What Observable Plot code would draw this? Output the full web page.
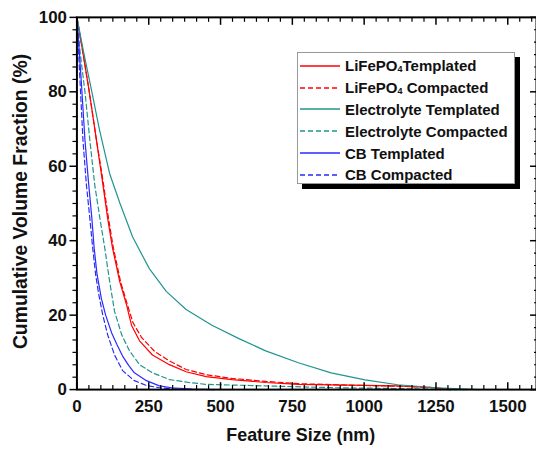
<!DOCTYPE html>
<html>
<head>
<meta charset="utf-8">
<script src="https://cdn.jsdelivr.net/npm/d3@7"></script>
<script src="https://cdn.jsdelivr.net/npm/@observablehq/plot@0.6"></script>
<style>
  html, body { margin: 0; padding: 0; background: white; overflow: hidden; }
  #wrap { position: relative; width: 536px; height: 451px; overflow: hidden; background: white; }
  #legend {
    position: absolute; left: 297px; top: 52px; width: 218px; height: 132px;
    box-sizing: border-box; border: 1px solid #999; background: white;
    box-shadow: 5px 5px 0 #000; padding-top: 2px;
    font-family: "Liberation Sans", Arial, sans-serif; font-weight: bold; font-size: 15px; color: #111;
  }
  .row { display: flex; align-items: center; height: 21.8px; white-space: nowrap; }
  .row svg { margin-left: 2px; margin-right: 5px; flex: none; }
  .sub { font-size: 9px; vertical-align: -1px; }
</style>
</head>
<body>
<div id="wrap">
  <div id="chart"></div>
  <div id="legend"></div>
</div>
<script>
// ---- Data ----
const seriesNames = ["LiFePO4 Templated", "LiFePO4 Compacted", "Electrolyte Templated", "Electrolyte Compacted", "CB Templated", "CB Compacted"];

const sizeLfpT = [0, 22, 43, 68, 85, 107, 124, 149, 173, 190, 218, 263, 322, 380, 450, 540, 657, 771, 944, 1117, 1250, 1300];
const fracLfpT = [100, 90, 80, 67, 58, 46, 38, 29, 22.7, 17.3, 13.1, 9.3, 6.7, 4.8, 3.5, 2.7, 1.9, 1.4, 1.2, 1.0, 0.5, 0];

const sizeLfpC = [0, 22, 43, 68, 87, 110, 127, 152, 175, 195, 225, 270, 322, 380, 450, 540, 657, 771, 944, 1117, 1250, 1300];
const fracLfpC = [100, 90, 80, 67, 58, 46, 38, 29, 23, 18, 14, 10.3, 7.7, 5.4, 4.0, 3.0, 2.2, 1.6, 1.2, 0.9, 0.5, 0];

const sizeElecT = [0, 25, 52, 78, 114, 150, 194, 252, 311, 380, 470, 564, 657, 771, 885, 1003, 1117, 1250, 1400];
const fracElecT = [100, 90, 80, 70, 58, 50, 41, 32.5, 26.4, 21.5, 17.3, 13.7, 10.4, 7.2, 4.5, 2.6, 1.3, 0.5, 0];

const sizeElecC = [0, 12, 28, 45, 62, 80, 97, 114, 131, 156, 183, 218, 263, 322, 391, 450, 600, 750, 900, 1100, 1300];
const fracElecC = [100, 90, 80, 67, 55, 46, 38, 29, 21, 14.7, 10.4, 6.7, 4.5, 2.7, 1.9, 1.4, 1.1, 0.8, 0.5, 0.3, 0];

const sizeCbT = [0, 15, 28, 40, 52, 60, 70, 85, 100, 121, 140, 159, 180, 200, 242, 287, 330, 400, 480];
const fracCbT = [100, 83, 67, 56, 46, 38, 31, 24.5, 20, 15.2, 12, 9, 6.5, 4.5, 2.4, 1, 0.5, 0.15, 0];

const sizeCbC = [0, 10, 21, 33, 45, 55, 65, 75, 90, 107, 131, 159, 200, 242, 287, 350, 420];
const fracCbC = [100, 84, 67, 55, 46, 38, 31, 26, 20, 14.7, 9.3, 5.1, 2.4, 1.1, 0.5, 0.1, 0];

const xTickValues = [0, 250, 500, 750, 1000, 1250, 1500];
const yTickValues = [0, 20, 40, 60, 80, 100];
const xDomain = [0, 1600];
const yDomain = [0, 100];

// ---- Styles ----
const red = "#ff0000", teal = "#1f9490", blue = "#2a2aff";
const dash = "5,3";

const toRows = (xs, ys) => xs.map((x, i) => ({x, y: ys[i]}));
const series = [
  {rows: toRows(sizeLfpT, fracLfpT), color: red, dashed: false},
  {rows: toRows(sizeLfpC, fracLfpC), color: red, dashed: true},
  {rows: toRows(sizeElecT, fracElecT), color: teal, dashed: false},
  {rows: toRows(sizeElecC, fracElecC), color: teal, dashed: true},
  {rows: toRows(sizeCbT, fracCbT), color: blue, dashed: false},
  {rows: toRows(sizeCbC, fracCbC), color: blue, dashed: true}
];

// minor ticks: 5 minor ticks between majors
const xMinor = [], yMinor = [];
for (let i = 0; i < xTickValues.length; i++) {
  const a = xTickValues[i], step = 250 / 6;
  for (let k = 1; k < 6; k++) { const v = a + k * step; if (v < xDomain[1]) xMinor.push(v); }
}
for (let i = 0; i < yTickValues.length - 1; i++) {
  const a = yTickValues[i], step = 20 / 6;
  for (let k = 1; k < 6; k++) yMinor.push(a + k * step);
}

const font = "'Liberation Sans', Arial, Helvetica, sans-serif";
const fmt = d => String(d);

const lineMarks = series.map(s => Plot.line(s.rows, {
  x: "x", y: "y", stroke: s.color, strokeWidth: 1.2,
  strokeDasharray: s.dashed ? dash : null
}));

const noText = {fill: "none", label: null};

const chart = Plot.plot({
  width: 540,
  height: 451,
  marginLeft: 77,
  marginRight: 0,
  marginTop: 17,
  marginBottom: 59,
  x: {domain: xDomain},
  y: {domain: yDomain},
  style: {background: "white", color: "black", fontFamily: font, overflow: "visible"},
  marks: [
    ...lineMarks,
    Plot.frame({stroke: "black", strokeWidth: 2}),
    // bottom ticks (inward)
    Plot.axisX(xTickValues, {anchor: "bottom", tickSize: 7, dy: -7, strokeWidth: 1.5, ...noText}),
    Plot.axisX(xMinor, {anchor: "bottom", tickSize: 4, dy: -4, strokeWidth: 1.2, ...noText}),
    // top ticks (inward)
    Plot.axisX(xTickValues, {anchor: "top", tickSize: 7, dy: 7, strokeWidth: 1.5, ...noText}),
    Plot.axisX(xMinor, {anchor: "top", tickSize: 4, dy: 4, strokeWidth: 1.2, ...noText}),
    // left ticks (outward)
    Plot.axisY(yTickValues, {anchor: "left", tickSize: 7, strokeWidth: 1.5, ...noText}),
    Plot.axisY(yMinor, {anchor: "left", tickSize: 4, strokeWidth: 1.2, ...noText}),
    // right ticks (inward)
    Plot.axisY(yTickValues, {anchor: "right", tickSize: 7, dx: -7, strokeWidth: 1.5, ...noText}),
    Plot.axisY(yMinor, {anchor: "right", tickSize: 3, dx: -3, strokeWidth: 1.2, ...noText}),
    // tick labels
    Plot.axisX(xTickValues, {anchor: "bottom", tickSize: 0, tickPadding: 10, tickFormat: fmt, label: null, fontSize: 17, fontWeight: "bold", fill: "#111"}),
    Plot.axisY(yTickValues, {anchor: "left", tickSize: 0, tickPadding: 10, tickFormat: fmt, label: null, fontSize: 17, fontWeight: "bold", fill: "#111"}),
    // axis titles
    Plot.text(["Feature Size (nm)"], {text: d => d, frameAnchor: "bottom", textAnchor: "middle", dy: 52, dx: -6, lineAnchor: "bottom", fontSize: 18, fontWeight: "bold", fill: "#111"}),
    Plot.text(["Cumulative Volume Fraction (%)"], {text: d => d, frameAnchor: "left", textAnchor: "middle", rotate: -90, dx: -50, dy: -2, lineAnchor: "bottom", fontSize: 19.5, fontWeight: "bold", fill: "#111"})
  ]
});
document.getElementById("chart").appendChild(chart);

// ---- Legend (inside the plot, top right) ----
const legendLabels = [
  ["LiFePO", "4", "Templated"],
  ["LiFePO", "4", " Compacted"],
  ["Electrolyte Templated", "", ""],
  ["Electrolyte Compacted", "", ""],
  ["CB Templated", "", ""],
  ["CB Compacted", "", ""]
];
const legend = document.getElementById("legend");
series.forEach((s, i) => {
  const row = document.createElement("div");
  row.className = "row";
  const [a, sub, b] = legendLabels[i];
  row.innerHTML =
    `<svg width="40" height="6"><line x1="0" x2="40" y1="3" y2="3" stroke="${s.color}" stroke-width="1.3" ${s.dashed ? `stroke-dasharray="${dash}"` : ""}/></svg>` +
    `<span>${a}${sub ? `<span class="sub">${sub}</span>` : ""}${b}</span>`;
  legend.appendChild(row);
});
</script>
</body>
</html>
